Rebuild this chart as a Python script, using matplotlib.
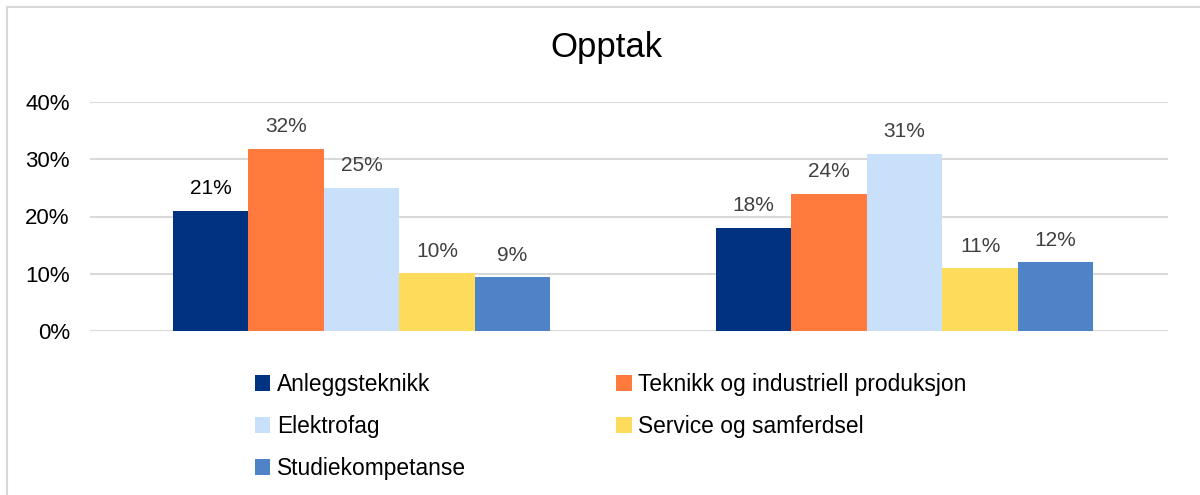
import matplotlib.pyplot as plt
import numpy as np
from matplotlib.lines import Line2D

# data
groups = ["", ""]
series = ["Anleggsteknikk", "Teknikk og industriell produksjon", "Elektrofag",
          "Service og samferdsel", "Studiekompetanse"]
anlegg = [0.21, 0.18]
teknikk = [0.318, 0.24]
elektro = [0.25, 0.31]
service = [0.101, 0.11]
studie = [0.094, 0.12]
colors = ["#003282", "#FF7A3C", "#C9E0FA", "#FFDB5C", "#4F83C8"]

plt.rcParams['font.family'] = ['Liberation Sans', 'DejaVu Sans']

fig = plt.figure(figsize=(12, 4.95), dpi=100)
ax = fig.add_axes([90/1200, 1-331/495, 1078/1200, 229/495])

x = np.arange(len(groups))
w = 0.139
vals = [anlegg, teknikk, elektro, service, studie]
for i, (v, c, lab) in enumerate(zip(vals, colors, series)):
    pos = x + (i - 2) * w
    bars = ax.bar(pos, v, width=w, color=c, label=lab, zorder=3)
    for j, b in enumerate(bars):
        col = "black" if (i == 0 and j == 0) else "#404040"
        ax.annotate(f"{round(v[j]*100):.0f}%", (b.get_x() + w/2, v[j]),
                    xytext=(0, 9), textcoords="offset points",
                    ha="center", va="bottom", fontsize=15, color=col)

ax.set_xlim(-0.5, 1.485)
ax.set_ylim(0, 0.40)
ax.set_yticks([0, 0.1, 0.2, 0.3, 0.4])
ax.set_yticklabels(["0%", "10%", "20%", "30%", "40%"], fontsize=16)
ax.set_xticks([])
ax.tick_params(axis="y", length=0, pad=14.5)
ax.grid(axis="y", color="#D9D9D9", linewidth=1.5, zorder=0)
for s in ax.spines.values():
    s.set_visible(False)

fig.text(606/1200, 1-48/495, "Opptak", ha="center", va="center", fontsize=25)

# legend row by row, two columns
h, l = ax.get_legend_handles_labels()
order = [0, 2, 4, 1, 3]
fig.legend([h[k] for k in order], [l[k] for k in order],
           loc="upper left", bbox_to_anchor=(234/1200, 1-352/495), ncol=2,
           frameon=False, fontsize=16.4, handlelength=0.7, handleheight=0.7,
           handletextpad=0.3, columnspacing=6.55, labelspacing=0.85)

# chart frame (left and top edges only)
fig.add_artist(Line2D([6.5/1200, 6.5/1200], [0, 1-6.5/495], transform=fig.transFigure,
                      color="#D9D9D9", linewidth=1.5))
fig.add_artist(Line2D([6.5/1200, 1], [1-6.5/495, 1-6.5/495], transform=fig.transFigure,
                      color="#D9D9D9", linewidth=1.5))

fig.savefig("out.png", dpi=100)
